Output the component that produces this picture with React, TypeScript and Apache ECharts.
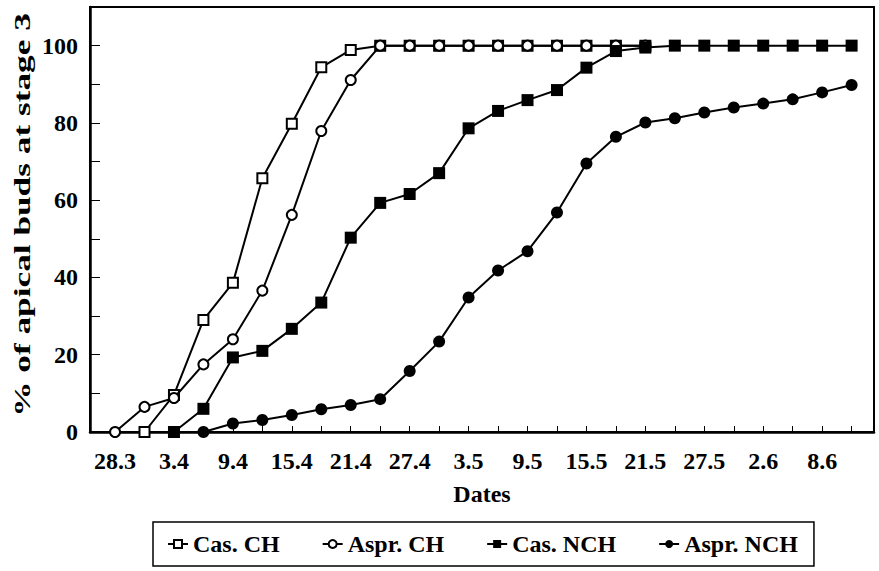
import React, { useEffect, useRef } from "react";
import * as echarts from "echarts";

const dates = [
  "28.3", "31.3", "3.4", "6.4", "9.4", "12.4", "15.4", "18.4", "21.4", "24.4",
  "27.4", "30.4", "3.5", "6.5", "9.5", "12.5", "15.5", "18.5", "21.5", "24.5",
  "27.5", "30.5", "2.6", "5.6", "8.6", "11.6",
];

const casCH: (number | null)[] = [
  null, 0, 9.6, 29.0, 38.6, 65.7, 79.8, 94.4, 98.9, 100,
  100, 100, 100, 100, 100, 100, 100, 100, 100, null,
  null, null, null, null, null, null,
];

const asprCH: (number | null)[] = [
  0, 6.5, 8.8, 17.5, 24.0, 36.6, 56.2, 77.9, 91.1, 100,
  100, 100, 100, 100, 100, 100, 100, 100, 100, null,
  null, null, null, null, null, null,
];

const casNCH: (number | null)[] = [
  null, null, 0, 6.0, 19.3, 21.0, 26.7, 33.5, 50.3, 59.3,
  61.6, 67.0, 78.6, 83.1, 85.9, 88.5, 94.3, 98.6, 99.5, 100,
  100, 100, 100, 100, 100, 100,
];

const asprNCH: (number | null)[] = [
  null, null, null, 0, 2.2, 3.1, 4.4, 5.9, 7.0, 8.5,
  15.8, 23.4, 34.8, 41.8, 46.8, 56.8, 69.5, 76.4, 80.1, 81.2,
  82.7, 84.0, 85.0, 86.1, 87.9, 89.8,
];

const yTickValues = [0, 10, 20, 30, 40, 50, 60, 70, 80, 90, 100, 110];
const yLabelValues = [0, 20, 40, 60, 80, 100];
const xLabelIndices = [0, 2, 4, 6, 8, 10, 12, 14, 16, 18, 20, 22, 24];

const FONT = "Liberation Serif";
const FS = 24;

function toPairs(arr: (number | null)[]) {
  const out: [number, number][] = [];
  arr.forEach((v, i) => {
    if (v !== null) out.push([i, v]);
  });
  return out;
}

export default function App() {
  const ref = useRef<HTMLDivElement>(null);
  useEffect(() => {
    if (!ref.current) return;
    const chart = echarts.init(ref.current, null, { renderer: "svg" });
    const lineStyle = { color: "#000", width: 2 };
    const baseSeries = {
      type: "line" as const,
      lineStyle,
      color: "#000",
    };
    chart.setOption({
      animation: false,
      backgroundColor: "#fff",
      grid: {
        left: 90,
        right: 5,
        top: 7,
        bottom: 139,
        show: true,
        borderColor: "#000",
        borderWidth: 2,
        backgroundColor: "transparent",
      },
      xAxis: {
        type: "value",
        min: -0.85,
        max: 25.76,
        name: "Dates",
        nameLocation: "middle",
        nameGap: 50,
        nameTextStyle: { fontFamily: FONT, fontWeight: "bold", fontSize: FS, color: "#000" },
        axisLine: { show: true, onZero: false, lineStyle: { color: "#000", width: 2.5 } },
        axisTick: {
          show: true,
          inside: true,
          length: 6,
          lineStyle: { color: "#000", width: 1 },
          customValues: dates.map((_, i) => i),
        },
        axisLabel: {
          margin: 17,
          fontFamily: FONT,
          fontWeight: "bold",
          fontSize: FS,
          color: "#000",
          customValues: xLabelIndices,
          formatter: (v: number) => dates[Math.round(v)] ?? "",
        },
        splitLine: { show: false },
      },
      yAxis: {
        type: "value",
        min: 0,
        max: 110,
        interval: 10,
        axisLine: { show: true, onZero: false, lineStyle: { color: "#000", width: 2.5 } },
        axisTick: {
          show: true,
          inside: true,
          length: 10,
          lineStyle: { color: "#000", width: 1 },
          customValues: yTickValues,
        },
        axisLabel: {
          margin: 12,
          fontFamily: FONT,
          fontWeight: "bold",
          fontSize: FS,
          color: "#000",
          customValues: yLabelValues,
        },
        splitLine: { show: false },
      },
      legend: {
        left: 153,
        top: 522,
        orient: "horizontal",
        padding: [10, 16, 10, 14],
        itemGap: 42,
        itemWidth: 20,
        itemHeight: 10,
        borderColor: "#000",
        borderWidth: 1.5,
        textStyle: { fontFamily: FONT, fontWeight: "bold", fontSize: FS, color: "#000" },
        data: ["Cas. CH", "Aspr. CH", "Cas. NCH", "Aspr. NCH"],
      },
      graphic: [
        {
          type: "text",
          x: 22,
          y: 215,
          rotation: Math.PI / 2,
          scaleX: 1.47,
          style: {
            text: "% of apical buds at stage 3",
            fontFamily: FONT,
            fontWeight: "bold",
            fontSize: FS,
            fill: "#000",
            align: "center",
            verticalAlign: "middle",
          },
        },
      ],
      series: [
        {
          ...baseSeries,
          name: "Cas. CH",
          symbol: "emptyRect",
          symbolSize: 10,
          itemStyle: { color: "#000", borderColor: "#000", borderWidth: 1.2 },
          data: toPairs(casCH),
          z: 3,
        },
        {
          ...baseSeries,
          name: "Aspr. CH",
          symbol: "emptyCircle",
          symbolSize: 10,
          itemStyle: { color: "#000", borderColor: "#000", borderWidth: 1 },
          data: toPairs(asprCH),
          z: 4,
        },
        {
          ...baseSeries,
          name: "Cas. NCH",
          symbol: "rect",
          symbolSize: 12,
          itemStyle: { color: "#000" },
          data: toPairs(casNCH),
          z: 5,
        },
        {
          ...baseSeries,
          name: "Aspr. NCH",
          symbol: "circle",
          symbolSize: 12,
          itemStyle: { color: "#000" },
          data: toPairs(asprNCH),
          z: 6,
        },
      ],
    });
    return () => chart.dispose();
  }, []);
  return (
    <div
      ref={ref}
      style={{ position: "fixed", left: 0, top: 0, width: 879, height: 571, background: "#fff" }}
    />
  );
}
